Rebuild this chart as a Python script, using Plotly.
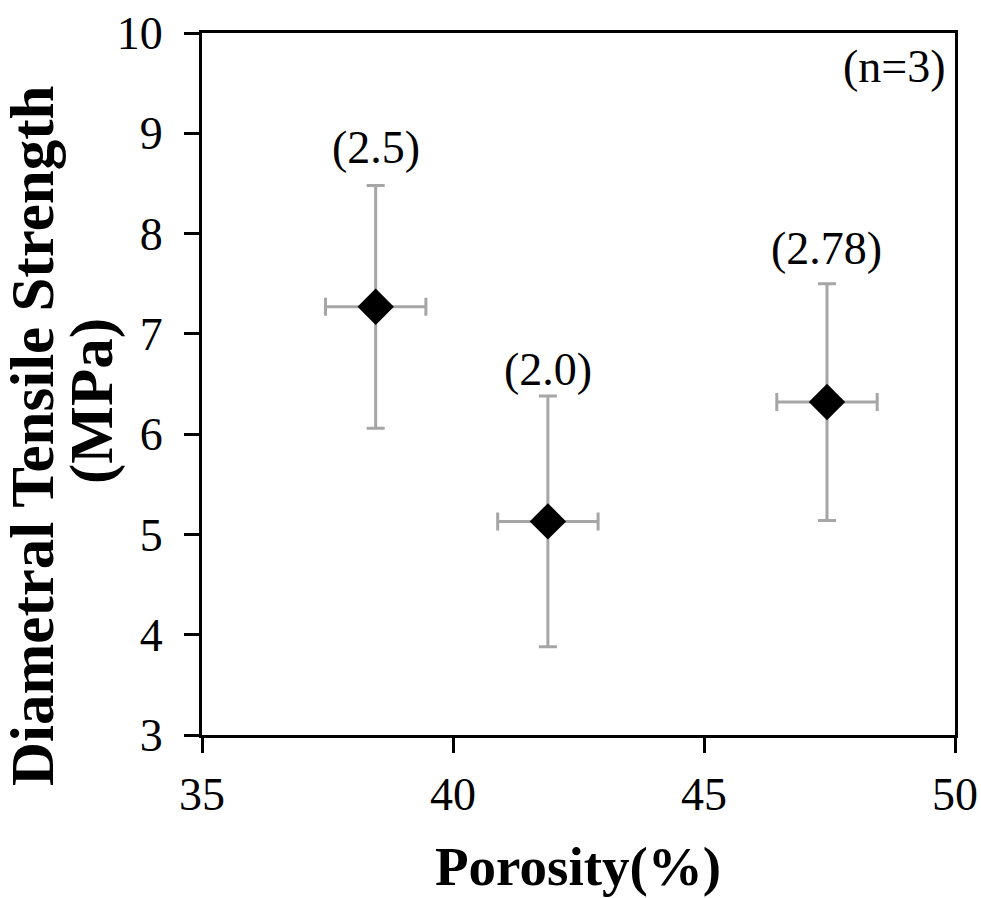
import plotly.graph_objects as go

# Data
porosity = [38.46, 41.89, 47.45]          # %
porosity_err = [1.0, 1.0, 1.0]
strength = [7.27, 5.13, 6.32]             # MPa
strength_err = [1.21, 1.25, 1.18]
point_labels = ["(2.5)", "(2.0)", "(2.78)"]
label_shift_px = [38, 27, 35]             # label centre above the error-bar cap
x_ticks = [35, 40, 45, 50]
y_ticks = [3, 4, 5, 6, 7, 8, 9, 10]

FONT = "Liberation Serif, Times New Roman, serif"
GREY = "#A6A6A6"

fig = go.Figure()
fig.add_trace(go.Scatter(
    x=porosity, y=strength, mode="markers",
    marker=dict(symbol="diamond", size=28, color="black", line=dict(width=0)),
    error_x=dict(type="data", array=porosity_err, color=GREY, thickness=3, width=9),
    error_y=dict(type="data", array=strength_err, color=GREY, thickness=3, width=9),
    showlegend=False,
))

annotations = []
for x, y, e, t, s in zip(porosity, strength, strength_err, point_labels, label_shift_px):
    annotations.append(dict(x=x, y=y + e, xref="x", yref="y", text=t, showarrow=False,
                            xanchor="center", yanchor="middle", yshift=s,
                            font=dict(family=FONT, size=46, color="black")))

annotations.append(dict(x=0.919, y=0.944, xref="paper", yref="paper", text="(n=3)",
                        showarrow=False, xanchor="center", yanchor="middle", yshift=6,
                        font=dict(family=FONT, size=46, color="black")))
# axis titles
annotations.append(dict(x=(577.5 - 202) / 753, y=1 - (866 - 33) / 702, xref="paper", yref="paper",
                        text="<b>Porosity(%)</b>", showarrow=False, xanchor="center", yanchor="middle",
                        font=dict(family=FONT, size=55, color="black")))
annotations.append(dict(x=(32 - 202) / 753, y=1 - (436 - 33) / 702, xref="paper", yref="paper",
                        text="<b>Diametral Tensile Strength</b>", showarrow=False, textangle=-90,
                        xanchor="center", yanchor="middle",
                        font=dict(family=FONT, size=61, color="black")))
annotations.append(dict(x=(92 - 202) / 753, y=1 - (401 - 33) / 702, xref="paper", yref="paper",
                        text="<b>(MPa)</b>", showarrow=False, textangle=-90,
                        xanchor="center", yanchor="middle",
                        font=dict(family=FONT, size=61, color="black")))

axis_common = dict(showgrid=False, zeroline=False, showline=True, linecolor="black", linewidth=3,
                   mirror=True, ticks="outside", ticklen=15, tickwidth=3, tickcolor="black",
                   automargin=False,
                   tickfont=dict(family=FONT, size=46, color="black"))

fig.update_layout(
    width=981, height=898,
    margin=dict(l=202, r=26, t=33, b=163, autoexpand=False),
    plot_bgcolor="white", paper_bgcolor="white",
    xaxis=dict(range=[35, 50], tickvals=x_ticks, ticklabelstandoff=2, **axis_common),
    yaxis=dict(range=[3, 10], tickvals=y_ticks, ticklabelstandoff=12, **axis_common),
    annotations=annotations,
)

fig.write_html("out.html", config={"displayModeBar": False},
               post_script="document.body.style.margin='0';document.body.style.overflow='hidden';")
